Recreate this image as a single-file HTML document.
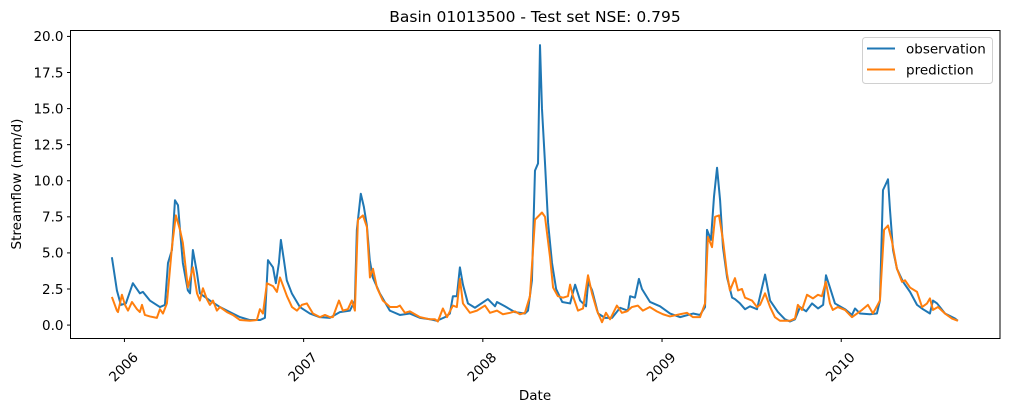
<!DOCTYPE html>
<html><head><meta charset="utf-8"><style>
html,body{margin:0;padding:0;background:#fff;}
svg{display:block;font-family:"DejaVu Sans","Liberation Sans",sans-serif;}
</style></head><body>
<svg id="chart" width="1010" height="412" viewBox="0 0 1010 412">
<rect width="1010" height="412" fill="#fff"/>
<text x="535" y="22" text-anchor="middle" font-size="15.5" fill="#000">Basin 01013500 - Test set NSE: 0.795</text>
<g id="yticks"></g>
<g id="xticks"></g>
<g id="series"></g>
<rect x="70.5" y="30.5" width="929.5" height="308" fill="none" stroke="#000" stroke-width="1"/>
<text x="535" y="400" text-anchor="middle" font-size="13.5">Date</text>
<text transform="translate(21,184) rotate(-90)" text-anchor="middle" font-size="13.5">Streamflow (mm/d)</text>
<g>
<rect x="862.5" y="37.5" width="130" height="46" rx="3" fill="#fff" fill-opacity="0.8" stroke="#d0d0d0"/>
<g>
<line x1="867" y1="48.5" x2="895" y2="48.5" stroke="#1f77b4" stroke-width="2"/>
<text x="906" y="53.5" font-size="13.5">observation</text>
</g>
<g>
<line x1="867" y1="69.5" x2="895" y2="69.5" stroke="#ff7f0e" stroke-width="2"/>
<text x="906" y="74.5" font-size="13.5">prediction</text>
</g>
</g>
</svg>
<script>
const obsDates=[2005.930,2005.958,2005.980,2006.008,2006.047,2006.086,2006.103,2006.142,2006.198,2006.226,2006.243,2006.265,2006.282,2006.299,2006.310,2006.326,2006.354,2006.366,2006.382,2006.405,2006.421,2006.477,2006.533,2006.589,2006.645,2006.700,2006.756,2006.784,2006.801,2006.812,2006.829,2006.845,2006.862,2006.873,2006.890,2006.906,2006.934,2006.979,2007.035,2007.090,2007.146,2007.202,2007.258,2007.286,2007.297,2007.319,2007.336,2007.353,2007.369,2007.386,2007.425,2007.481,2007.537,2007.593,2007.649,2007.705,2007.744,2007.789,2007.816,2007.833,2007.855,2007.872,2007.889,2007.917,2007.956,2008.028,2008.068,2008.079,2008.123,2008.179,2008.235,2008.252,2008.274,2008.291,2008.308,2008.319,2008.330,2008.347,2008.364,2008.386,2008.409,2008.443,2008.487,2008.515,2008.543,2008.576,2008.588,2008.610,2008.643,2008.682,2008.721,2008.766,2008.810,2008.822,2008.849,2008.871,2008.888,2008.933,2008.989,2009.045,2009.101,2009.173,2009.212,2009.240,2009.251,2009.273,2009.290,2009.307,2009.324,2009.340,2009.363,2009.391,2009.407,2009.435,2009.463,2009.491,2009.530,2009.575,2009.603,2009.647,2009.686,2009.714,2009.742,2009.770,2009.804,2009.837,2009.871,2009.899,2009.915,2009.937,2009.965,2010.021,2010.060,2010.077,2010.105,2010.160,2010.199,2010.216,2010.233,2010.250,2010.261,2010.272,2010.289,2010.311,2010.345,2010.384,2010.423,2010.456,2010.495,2010.512,2010.535,2010.579,2010.635,2010.651];
const obsValues=[4.7,2.4,1.4,1.5,2.9,2.2,2.3,1.7,1.25,1.4,4.3,5.2,8.65,8.3,6.6,4.3,2.4,2.2,5.2,3.6,2.2,1.7,1.25,0.9,0.55,0.35,0.35,0.5,4.5,4.3,4.0,2.9,4.3,5.9,4.5,3.1,2.2,1.25,0.8,0.55,0.5,0.9,1.0,1.7,6.6,9.1,8.2,6.9,4.5,3.3,2.2,1.0,0.7,0.8,0.5,0.4,0.3,0.55,0.8,2.0,2.0,4.0,2.8,1.5,1.2,1.8,1.3,1.6,1.3,0.9,0.8,1.0,3.1,10.7,11.2,19.4,15.0,11.2,7.1,4.3,2.5,1.6,1.5,2.8,1.7,1.3,3.0,2.4,0.8,0.5,0.5,1.2,1.0,2.0,1.9,3.2,2.5,1.6,1.3,0.8,0.55,0.8,0.7,1.25,6.6,5.9,8.9,10.9,8.65,5.4,3.3,1.9,1.8,1.5,1.1,1.3,1.1,3.5,1.7,0.9,0.4,0.25,0.4,1.25,0.95,1.5,1.15,1.4,3.45,2.6,1.5,1.1,0.7,1.15,0.8,0.75,0.8,1.7,9.35,9.8,10.1,8.0,5.2,3.9,3.0,2.3,1.4,1.1,0.8,1.7,1.5,0.8,0.45,0.3];
const predDates=[2005.930,2005.958,2005.964,2005.986,2006.003,2006.020,2006.042,2006.070,2006.086,2006.098,2006.114,2006.142,2006.181,2006.198,2006.215,2006.237,2006.265,2006.287,2006.310,2006.326,2006.354,2006.382,2006.405,2006.421,2006.438,2006.460,2006.477,2006.494,2006.516,2006.533,2006.572,2006.605,2006.645,2006.700,2006.739,2006.756,2006.773,2006.795,2006.829,2006.851,2006.868,2006.907,2006.935,2006.963,2006.990,2007.018,2007.052,2007.091,2007.119,2007.147,2007.163,2007.197,2007.219,2007.247,2007.269,2007.286,2007.303,2007.331,2007.353,2007.370,2007.387,2007.409,2007.442,2007.482,2007.521,2007.537,2007.565,2007.593,2007.649,2007.705,2007.733,2007.749,2007.777,2007.800,2007.833,2007.855,2007.872,2007.889,2007.928,2007.967,2008.012,2008.040,2008.079,2008.112,2008.152,2008.179,2008.207,2008.235,2008.263,2008.291,2008.330,2008.347,2008.375,2008.392,2008.419,2008.447,2008.475,2008.487,2008.503,2008.531,2008.559,2008.587,2008.609,2008.637,2008.665,2008.687,2008.710,2008.748,2008.776,2008.804,2008.832,2008.865,2008.893,2008.932,2008.971,2009.005,2009.044,2009.100,2009.139,2009.173,2009.212,2009.240,2009.256,2009.279,2009.296,2009.318,2009.340,2009.362,2009.379,2009.407,2009.424,2009.446,2009.463,2009.502,2009.530,2009.547,2009.575,2009.603,2009.630,2009.658,2009.714,2009.742,2009.758,2009.781,2009.809,2009.842,2009.870,2009.892,2009.914,2009.937,2009.953,2009.981,2010.021,2010.060,2010.088,2010.116,2010.149,2010.177,2010.216,2010.239,2010.261,2010.283,2010.311,2010.339,2010.356,2010.384,2010.423,2010.451,2010.479,2010.495,2010.512,2010.540,2010.579,2010.618,2010.651];
const predValues=[1.95,1.0,0.9,2.1,1.4,1.0,1.6,1.1,0.9,1.4,0.7,0.6,0.5,1.1,0.8,1.5,5.4,7.6,6.6,5.7,2.6,4.0,2.2,1.7,2.55,1.8,1.4,1.7,1.0,1.25,0.9,0.7,0.35,0.3,0.35,1.1,0.8,2.9,2.7,2.3,3.3,2.0,1.25,1.0,1.4,1.5,0.8,0.55,0.7,0.55,0.55,1.7,1.0,1.1,1.7,1.0,7.3,7.6,6.8,3.3,3.9,2.6,1.7,1.25,1.25,1.35,0.85,0.95,0.55,0.4,0.4,0.25,1.15,0.55,1.35,1.25,3.2,1.5,0.85,1.0,1.35,0.85,1.0,0.75,0.85,0.95,0.75,0.85,2.0,7.3,7.8,7.5,4.7,2.6,2.0,1.9,2.0,2.8,2.0,1.0,1.15,3.45,2.2,1.0,0.2,0.85,0.4,1.35,0.85,0.95,1.25,1.35,1.0,1.25,0.95,0.75,0.6,0.75,0.85,0.55,0.55,1.5,6.1,5.4,7.5,7.6,5.9,3.6,2.4,3.25,2.4,2.5,1.9,1.7,1.25,1.4,2.2,1.25,0.55,0.3,0.3,0.45,1.4,1.05,2.1,1.85,2.1,2.0,3.0,1.5,1.05,1.25,1.05,0.55,0.8,1.05,1.4,0.8,1.7,6.6,6.9,5.8,3.9,3.0,3.1,2.6,2.3,1.25,1.5,1.85,1.05,1.25,0.8,0.45,0.3];
const yTickValues=[0,2.5,5,7.5,10,12.5,15,17.5,20];
const xTickYears=[2006,2007,2008,2009,2010];

const NS='http://www.w3.org/2000/svg';
const plotL=70.5,plotR=1000,plotT=30.5,plotB=338.5;
const xMin=2005.699,xMax=2010.886,yMin=-0.93,yMax=20.41;
function xScale(v){return plotL+(v-xMin)/(xMax-xMin)*(plotR-plotL);}
function yScale(v){return plotB-(v-yMin)/(yMax-yMin)*(plotB-plotT);}

const yG=document.getElementById('yticks');
yTickValues.forEach(v=>{
  const y=yScale(v);
  const t=document.createElementNS(NS,'line');
  t.setAttribute('x1',plotL-3.5);t.setAttribute('x2',plotL);t.setAttribute('y1',y);t.setAttribute('y2',y);t.setAttribute('stroke','#000');
  
  
  yG.appendChild(t);
  const l=document.createElementNS(NS,'text');
  l.setAttribute('x',plotL-7);l.setAttribute('y',y+4.8);l.setAttribute('text-anchor','end');l.setAttribute('font-size','13.5');
  l.textContent=v.toFixed(1);
  
  
  yG.appendChild(l);
});
const xG=document.getElementById('xticks');
xTickYears.forEach(v=>{
  const x=xScale(v);
  const t=document.createElementNS(NS,'line');
  t.setAttribute('x1',x);t.setAttribute('x2',x);t.setAttribute('y1',plotB);t.setAttribute('y2',plotB+3.5);t.setAttribute('stroke','#000');
  
  
  xG.appendChild(t);
  const l=document.createElementNS(NS,'text');
  l.setAttribute('transform','translate('+(x-1)+',367) rotate(-45)');
  l.setAttribute('text-anchor','middle');l.setAttribute('dy','0.35em');l.setAttribute('font-size','13.5');
  l.textContent=String(v);
  
  
  xG.appendChild(l);
});
const sG=document.getElementById('series');
function drawLine(dates,vals,color,name){
  const p=document.createElementNS(NS,'polyline');
  p.setAttribute('points',dates.map((d,i)=>xScale(d).toFixed(2)+','+yScale(vals[i]).toFixed(2)).join(' '));
  p.setAttribute('fill','none');p.setAttribute('stroke',color);p.setAttribute('stroke-width','2');p.setAttribute('stroke-linejoin','round');
  
  
  sG.appendChild(p);
}
drawLine(obsDates,obsValues,'#1f77b4','observation-line');
drawLine(predDates,predValues,'#ff7f0e','prediction-line');
</script>
</body></html>
